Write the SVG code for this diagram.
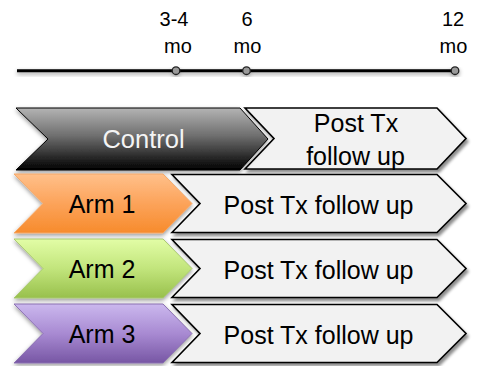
<svg xmlns="http://www.w3.org/2000/svg" width="477" height="366" viewBox="0 0 477 366">
  <defs>
    <linearGradient id="gControl" x1="0" y1="0" x2="0" y2="1">
      <stop offset="0" stop-color="#b4b4b4"/>
      <stop offset="0.45" stop-color="#6e6e6e"/>
      <stop offset="1" stop-color="#000000"/>
    </linearGradient>
    <linearGradient id="gOrange" x1="0" y1="0" x2="0" y2="1">
      <stop offset="0" stop-color="#ffc08a"/>
      <stop offset="0.5" stop-color="#fca35a"/>
      <stop offset="1" stop-color="#f78b2c"/>
    </linearGradient>
    <linearGradient id="gGreen" x1="0" y1="0" x2="0" y2="1">
      <stop offset="0" stop-color="#e2fda6"/>
      <stop offset="0.5" stop-color="#c2e57c"/>
      <stop offset="1" stop-color="#98c04c"/>
    </linearGradient>
    <linearGradient id="gPurple" x1="0" y1="0" x2="0" y2="1">
      <stop offset="0" stop-color="#cbb8ee"/>
      <stop offset="0.5" stop-color="#a88ad2"/>
      <stop offset="1" stop-color="#7756a4"/>
    </linearGradient>
    <filter id="dropShadow" x="-10%" y="-20%" width="125%" height="150%">
      <feGaussianBlur in="SourceAlpha" stdDeviation="1.6"/>
      <feOffset dx="2" dy="3" result="b"/>
      <feFlood flood-color="#000" flood-opacity="0.45"/>
      <feComposite in2="b" operator="in"/>
      <feMerge><feMergeNode/><feMergeNode in="SourceGraphic"/></feMerge>
    </filter>
    <filter id="softShadow" x="-10%" y="-20%" width="125%" height="150%">
      <feGaussianBlur in="SourceAlpha" stdDeviation="2"/>
      <feOffset dx="0" dy="1.5" result="b"/>
      <feFlood flood-color="#000" flood-opacity="0.4"/>
      <feComposite in2="b" operator="in"/>
      <feMerge><feMergeNode/><feMergeNode in="SourceGraphic"/></feMerge>
    </filter>
  </defs>
  <style>
    text { font-family: "Liberation Sans", Arial, sans-serif; text-anchor: middle; }
    .tl { font-size: 20px; fill: #000; }
    .lbl { font-size: 25px; fill: #000; }
    .ctl { font-size: 25.5px; fill: #f4f4f4; }
    .follow { fill: #f2f2f2; stroke: #000; stroke-width: 1.6; stroke-linejoin: miter; filter: url(#dropShadow); }
    .arm { filter: url(#softShadow); stroke-width: 1; }
    .dot { fill: #9a9a9a; stroke: #222; stroke-width: 1.3; }
  </style>

  <!-- timeline with month markers -->
  <g id="timeline">
    <g filter="url(#softShadow)">
      <line x1="17" y1="70.7" x2="455" y2="70.7" stroke="#000" stroke-width="3"/>
      <circle class="dot" cx="176" cy="70.7" r="3.8"/>
      <circle class="dot" cx="246.5" cy="70.7" r="3.8"/>
      <circle class="dot" cx="455" cy="70.7" r="3.8"/>
    </g>
    <text class="tl" x="174" y="26">3-4</text>
    <text class="tl" x="178" y="53">mo</text>
    <text class="tl" x="247" y="26">6</text>
    <text class="tl" x="247.5" y="53">mo</text>
    <text class="tl" x="453" y="26">12</text>
    <text class="tl" x="453.5" y="53">mo</text>
  </g>

  <!-- control row -->
  <g id="control-followup">
    <polygon class="follow" points="245,108 437,108 466,138.5 437,169 245,169 274,138.5"/>
    <text class="lbl" x="356" y="132">Post Tx</text>
    <text class="lbl" x="355.5" y="165">follow up</text>
  </g>
  <g id="control">
    <polygon class="arm" points="16,108 240,108 268,139 240,170 16,170 48,139" fill="url(#gControl)" stroke="#000" stroke-width="1.6"/>
    <text class="ctl" x="143.5" y="148">Control</text>
  </g>

  <!-- arm 1 row -->
  <g id="arm1-followup">
    <polygon class="follow" points="172,174.5 437,174.5 466,203.5 437,232.5 172,232.5 200,203.5"/>
    <text class="lbl" x="318.5" y="214">Post Tx follow up</text>
  </g>
  <g id="arm1">
    <polygon class="arm" points="14,174 163,174 192,203.5 163,233 14,233 43,203.5" fill="url(#gOrange)" stroke="#f4a868"/>
    <text class="lbl" x="102" y="213">Arm 1</text>
  </g>

  <!-- arm 2 row -->
  <g id="arm2-followup">
    <polygon class="follow" points="172,239.5 437,239.5 466,268.5 437,297.5 172,297.5 200,268.5"/>
    <text class="lbl" x="318.5" y="279">Post Tx follow up</text>
  </g>
  <g id="arm2">
    <polygon class="arm" points="14,239 163,239 192,268.5 163,298 14,298 43,268.5" fill="url(#gGreen)" stroke="#a8c870"/>
    <text class="lbl" x="102" y="278">Arm 2</text>
  </g>

  <!-- arm 3 row -->
  <g id="arm3-followup">
    <polygon class="follow" points="172,304.5 437,304.5 466,333.5 437,362.5 172,362.5 200,333.5"/>
    <text class="lbl" x="318.5" y="344">Post Tx follow up</text>
  </g>
  <g id="arm3">
    <polygon class="arm" points="14,304 163,304 192,333.5 163,363 14,363 43,333.5" fill="url(#gPurple)" stroke="#8a70b0"/>
    <text class="lbl" x="102" y="343">Arm 3</text>
  </g>
</svg>
